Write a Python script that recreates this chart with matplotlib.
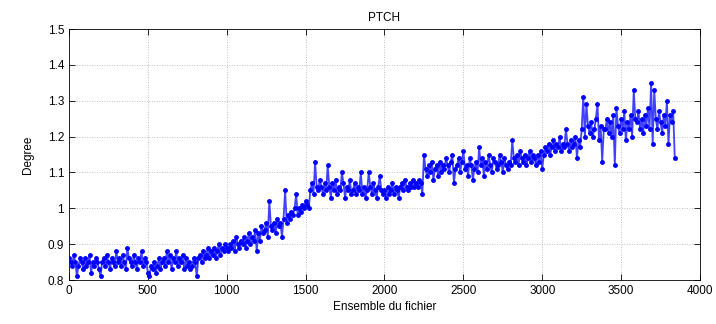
import numpy as np
import matplotlib
matplotlib.use("Agg")
import matplotlib.pyplot as plt

# Pitch values (degrees), read every 10 samples from the reference
pitch = [
    0.86,0.85,0.84,0.87,0.85,0.81,0.84,0.86,0.85,0.83,0.86,0.84,0.85,0.87,0.82,0.85,0.84,0.86,0.85,0.83,
    0.81,0.85,0.86,0.84,0.87,0.85,0.83,0.86,0.85,0.84,0.88,0.85,0.86,0.84,0.87,0.85,0.83,0.89,0.86,0.85,
    0.84,0.87,0.85,0.83,0.86,0.85,0.88,0.84,0.86,0.85,0.82,0.81,0.84,0.83,0.85,0.82,0.84,0.86,0.83,0.85,
    0.86,0.84,0.88,0.85,0.87,0.83,0.86,0.85,0.88,0.84,0.86,0.85,0.87,0.83,0.86,0.84,0.85,0.83,0.84,0.86,
    0.85,0.81,0.86,0.87,0.85,0.88,0.86,0.87,0.89,0.86,0.88,0.87,0.89,0.86,0.88,0.90,0.87,0.89,0.88,0.90,
    0.89,0.88,0.90,0.89,0.91,0.88,0.92,0.90,0.89,0.91,0.90,0.92,0.89,0.91,0.93,0.90,0.92,0.91,0.94,0.88,
    0.93,0.91,0.95,0.93,0.94,0.96,0.92,1.02,0.95,0.94,0.96,0.93,0.97,0.95,0.96,0.92,0.97,1.05,0.96,0.98,
    0.97,0.99,0.98,1.00,1.04,0.98,1.00,0.99,1.01,1.00,1.02,1.01,1.00,1.05,1.07,1.04,1.13,1.06,1.05,1.08,
    1.06,1.04,1.07,1.05,1.12,1.06,1.03,1.07,1.05,1.08,1.04,1.06,1.05,1.10,1.07,1.03,1.06,1.05,1.08,1.04,
    1.05,1.07,1.04,1.06,1.05,1.10,1.04,1.06,1.03,1.05,1.10,1.06,1.04,1.07,1.05,1.03,1.06,1.09,1.05,1.04,
    1.05,1.03,1.06,1.04,1.05,1.07,1.04,1.06,1.05,1.03,1.06,1.07,1.05,1.08,1.06,1.05,1.07,1.06,1.08,1.06,
    1.07,1.06,1.08,1.07,1.04,1.15,1.11,1.09,1.12,1.10,1.13,1.08,1.11,1.12,1.09,1.13,1.10,1.12,1.11,1.14,
    1.12,1.10,1.13,1.15,1.07,1.11,1.12,1.14,1.10,1.13,1.16,1.11,1.12,1.09,1.14,1.12,1.08,1.11,1.13,1.10,
    1.17,1.12,1.14,1.09,1.13,1.11,1.15,1.12,1.10,1.14,1.13,1.11,1.12,1.15,1.13,1.10,1.14,1.12,1.11,1.13,
    1.12,1.19,1.14,1.13,1.15,1.12,1.16,1.14,1.13,1.15,1.12,1.14,1.16,1.13,1.15,1.14,1.12,1.15,1.13,1.16,
    1.11,1.15,1.17,1.16,1.18,1.15,1.17,1.19,1.16,1.18,1.17,1.20,1.16,1.18,1.17,1.22,1.18,1.16,1.19,1.17,
    1.18,1.20,1.14,1.19,1.17,1.22,1.31,1.20,1.29,1.23,1.21,1.24,1.20,1.22,1.25,1.29,1.19,1.23,1.13,1.22,
    1.22,1.25,1.21,1.24,1.20,1.26,1.12,1.28,1.23,1.21,1.25,1.22,1.27,1.19,1.24,1.22,1.26,1.20,1.33,1.25,
    1.24,1.27,1.22,1.25,1.21,1.26,1.23,1.28,1.22,1.35,1.18,1.33,1.25,1.22,1.27,1.24,1.21,1.26,1.23,1.30,
    1.18,1.26,1.24,1.27,1.14,
]
sample_step = 10
x_ticks = [0, 500, 1000, 1500, 2000, 2500, 3000, 3500, 4000]
y_ticks = [0.8, 0.9, 1.0, 1.1, 1.2, 1.3, 1.4, 1.5]
y_tick_labels = ["0.8", "0.9", "1", "1.1", "1.2", "1.3", "1.4", "1.5"]

plt.rcParams['font.family'] = ['Liberation Sans', 'DejaVu Sans']

fig = plt.figure(figsize=(7.16, 3.24), dpi=100)
ax = fig.add_axes([69/716, 1-280/324, (700-69)/716, (280-29)/324])

x = np.arange(len(pitch)) * sample_step
ax.plot(x, pitch, '-', color=(0.25, 0.25, 1.0), lw=1.3, zorder=2)
ax.plot(x, pitch, '.', color='blue', ms=5, zorder=3)

ax.set_xlim(0, 4000)
ax.set_ylim(0.8, 1.5)
ax.set_xticks(x_ticks)
ax.set_yticks(y_ticks)
ax.set_yticklabels(y_tick_labels)
ax.tick_params(direction='in', top=True, right=True, labelsize=8.5, length=4, width=0.6)
ax.grid(True, linestyle=(0, (1, 2)), color='#aaaaaa', lw=0.6)
for s in ax.spines.values():
    s.set_linewidth(0.6)
ax.set_title('PTCH', fontsize=8.5, pad=6)
ax.set_xlabel('Ensemble du fichier', fontsize=8.5, labelpad=3)
ax.set_ylabel('Degree', fontsize=8.5, labelpad=10)

fig.savefig('out.png', dpi=100)
